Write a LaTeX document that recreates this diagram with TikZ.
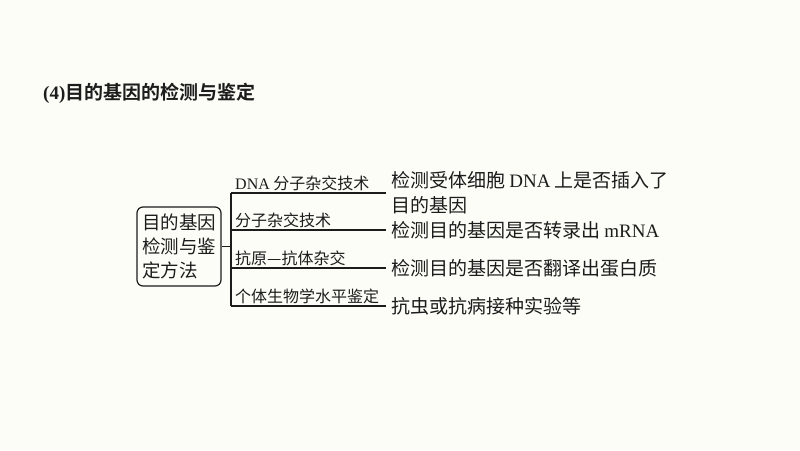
\documentclass[tikz,border=0pt]{standalone}
\usepackage{fontspec}
\setmainfont{Noto Sans CJK SC}[BoldFont={Noto Sans CJK SC Bold}]
\newfontfamily\lat{Liberation Serif}
\definecolor{paper}{RGB}{253,253,247}
\definecolor{ink}{RGB}{28,28,28}

\begin{document}
\begin{tikzpicture}[x=1pt,y=-1pt]
\tikzset{edge/.style = {-, line width=1.1pt, draw=ink}}
\tikzset{methodbox/.style = {draw=ink, line width=1.2pt, rounded corners=6pt, align=left, minimum width=84pt, minimum height=79pt, inner sep=5pt, text=ink, font=\fontsize{18.5}{24}\selectfont}}
\tikzset{branchtext/.style = {anchor=south west, inner xsep=4pt, inner ysep=1.5pt, text=ink, font=\fontsize{16}{18}\selectfont}}
\tikzset{resulttext/.style = {anchor=west, inner sep=5pt, align=left, text=ink, font=\fontsize{19}{25}\selectfont}}
\def \xs {231}
\def \xe {386}
\fill[paper] (0,0) rectangle (800,450);
\useasboundingbox (0,0) rectangle (800,450);
% title
\node[anchor=west, inner sep=3pt, text=ink, font=\fontsize{19}{22}\selectfont\bfseries] (title) at (40,93) {{\lat\bfseries (4)}目的基因的检测与鉴定};
% method box
\node[methodbox](box) at (179,246.5) {目的基因\\检测与鉴\\定方法};
% branch ends
\coordinate (s1) at (\xs,193);
\coordinate (s2) at (\xs,230);
\coordinate (s3) at (\xs,268);
\coordinate (s4) at (\xs,306);
\coordinate (e1) at (\xe,193);
\coordinate (e2) at (\xe,230);
\coordinate (e3) at (\xe,268);
\coordinate (e4) at (\xe,306);
\draw[edge] (box.east) to (box.east -| s1);
\draw[edge] (s1) to (s4);
\draw[edge] (s1) to (e1);
\draw[edge] (s2) to (e2);
\draw[edge] (s3) to (e3);
\draw[edge] (s4) to (e4);
% methods
\node[branchtext](m1) at (s1) {{\lat DNA} 分子杂交技术};
\node[branchtext](m2) at (s2) {分子杂交技术};
\node[branchtext](m3) at (s3) {抗原—抗体杂交};
\node[branchtext](m4) at (s4) {个体生物学水平鉴定};
% results
\node[resulttext](r1) at (e1) {检测受体细胞 {\lat DNA} 上是否插入了\\目的基因};
\node[resulttext](r2) at (e2) {检测目的基因是否转录出 {\lat mRNA}};
\node[resulttext](r3) at (e3) {检测目的基因是否翻译出蛋白质};
\node[resulttext](r4) at (e4) {抗虫或抗病接种实验等};
\end{tikzpicture}
\end{document}
